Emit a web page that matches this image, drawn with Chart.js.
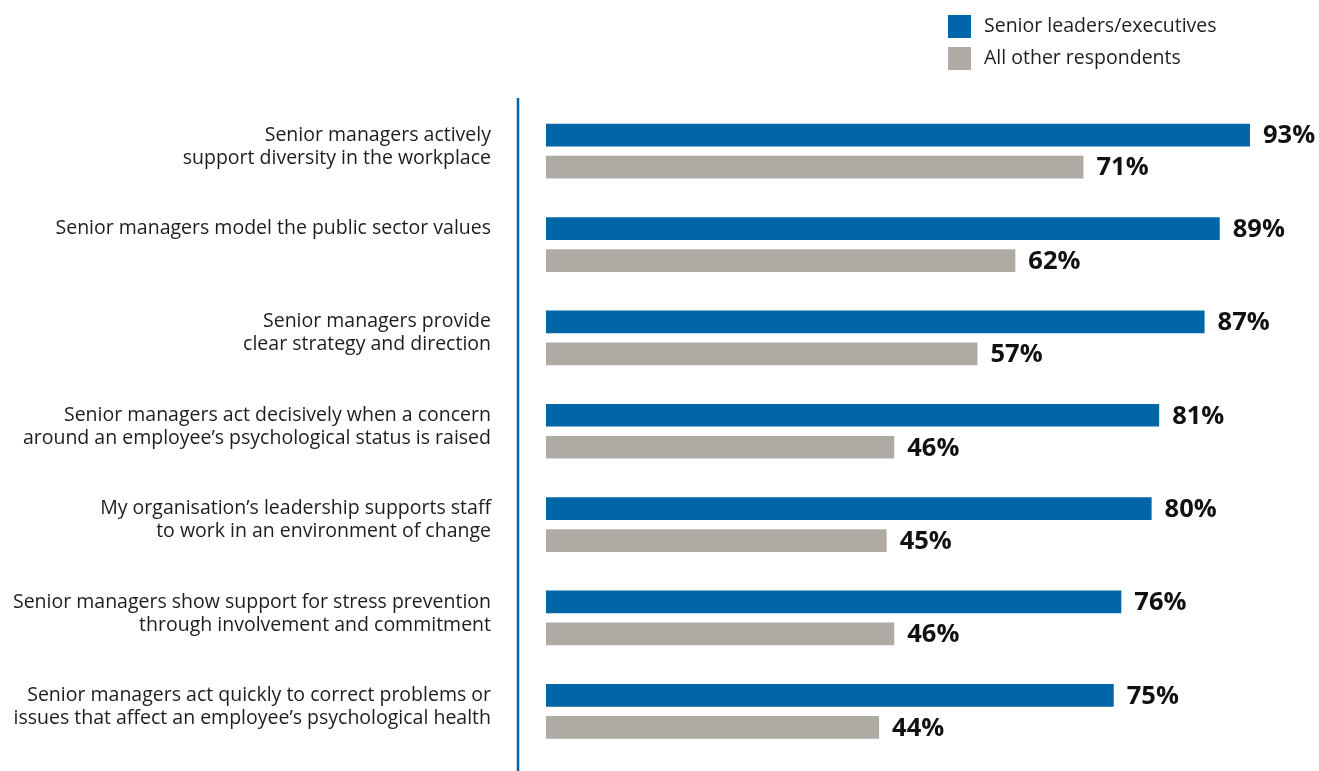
<!DOCTYPE html>
<html><head><meta charset="utf-8">
<script src="https://cdn.jsdelivr.net/npm/chart.js@4.4.1/dist/chart.umd.min.js"></script>
<style>html,body{margin:0;padding:0;background:#fff;}#wrap{width:1319px;height:771px;position:relative;}</style>
</head><body><div id="wrap"><canvas id="c"></canvas></div>
<script>
const categories = [
  ["Senior managers actively", "support diversity in the workplace"],
  ["Senior managers model the public sector values"],
  ["Senior managers provide", "clear strategy and direction"],
  ["Senior managers act decisively when a concern", "around an employee\u2019s psychological status is raised"],
  ["My organisation\u2019s leadership supports staff", "to work in an environment of change"],
  ["Senior managers show support for stress prevention", "through involvement and commitment"],
  ["Senior managers act quickly to correct problems or", "issues that affect an employee\u2019s psychological health"]
];
const seriesNames = ["Senior leaders/executives", "All other respondents"];
const seniorLeaders = [93, 89, 87, 81, 80, 76, 75];
const otherRespondents = [71, 62, 57, 46, 45, 46, 44];

const BLUE = '#0066A8', GREY = '#AFAAA3', TEXT = '#1d1d1b';
const FONT = '"Open Sans", "Noto Sans", sans-serif';

// pad labels to three lines so the first line sits beside the first bar
const tickLabels = categories.map(l => { const a = l.slice(); while (a.length < 3) a.push(''); return a; });

const axisLinePlugin = {
  id: 'axisLine',
  beforeDatasetsDraw(chart) {
    const ctx = chart.ctx, x = chart.chartArea.left - 28;
    ctx.save(); ctx.strokeStyle = BLUE; ctx.lineWidth = 2.5;
    ctx.beginPath(); ctx.moveTo(x, 98); ctx.lineTo(x, chart.height); ctx.stroke(); ctx.restore();
  }
};
const valueLabels = {
  id: 'valueLabels',
  afterDatasetsDraw(chart) {
    const ctx = chart.ctx; ctx.save();
    ctx.font = 'bold 25.5px ' + FONT; ctx.fillStyle = '#111'; ctx.textAlign = 'left'; ctx.textBaseline = 'middle';
    chart.data.datasets.forEach((ds, i) => {
      chart.getDatasetMeta(i).data.forEach((el, j) => ctx.fillText(ds.data[j] + '%', el.x + 13, el.y + 1));
    });
    ctx.restore();
  }
};
const customLegend = {
  id: 'customLegend',
  afterDraw(chart) {
    const ctx = chart.ctx; ctx.save();
    ctx.font = '19.5px ' + FONT; ctx.textBaseline = 'middle'; ctx.textAlign = 'left';
    chart.data.datasets.forEach((ds, i) => {
      const y = 15 + i * 32;
      ctx.fillStyle = ds.backgroundColor; ctx.fillRect(948, y, 23, 23);
      ctx.fillStyle = TEXT; ctx.fillText(ds.label, 984, y + 11.5);
    });
    ctx.restore();
  }
};

new Chart(document.getElementById('c'), {
  type: 'bar',
  data: {
    labels: tickLabels,
    datasets: [
      { label: seriesNames[0], data: seniorLeaders, backgroundColor: BLUE, barPercentage: 0.709, categoryPercentage: 0.6856 },
      { label: seriesNames[1], data: otherRespondents, backgroundColor: GREY, barPercentage: 0.709, categoryPercentage: 0.6856 }
    ]
  },
  options: {
    indexAxis: 'y', responsive: true, maintainAspectRatio: false, animation: false,
    layout: { padding: { top: 104.5, bottom: 13, right: 16, left: 0 } },
    plugins: { legend: { display: false }, tooltip: { enabled: false } },
    scales: {
      x: { display: false, min: 0, max: 100 },
      y: {
        grid: { display: false, drawTicks: false }, border: { display: false },
        ticks: { color: TEXT, font: { family: FONT, size: 19.5, lineHeight: 1.18 }, padding: 55, labelOffset: 7, autoSkip: false },
        afterFit(s) { s.width = 546; s.paddingTop = 0; s.paddingBottom = 0; }
      }
    }
  },
  plugins: [axisLinePlugin, valueLabels, customLegend]
});
</script></body></html>
